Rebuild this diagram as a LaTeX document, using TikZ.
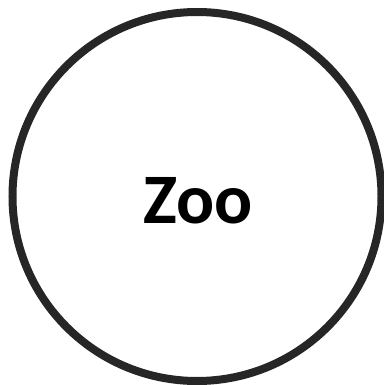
\documentclass[tikz,border=0pt]{standalone}
\usepackage{fontspec}
\setmainfont{Carlito}
\definecolor{ringgray}{HTML}{262626}
\begin{document}
\begin{tikzpicture}[x=1pt,y=-1pt,
  ring/.style={circle,draw=ringgray,line width=8pt,minimum size=369pt,inner sep=0pt},
  label/.style={font=\fontsize{71}{85}\selectfont\bfseries,text=black}]
\useasboundingbox (0,0) rectangle (383,385);
\node[ring] (zoo) at (197,196.5) {};
\node[label] (t) at (198,201) {Zoo};
\end{tikzpicture}
\end{document}
